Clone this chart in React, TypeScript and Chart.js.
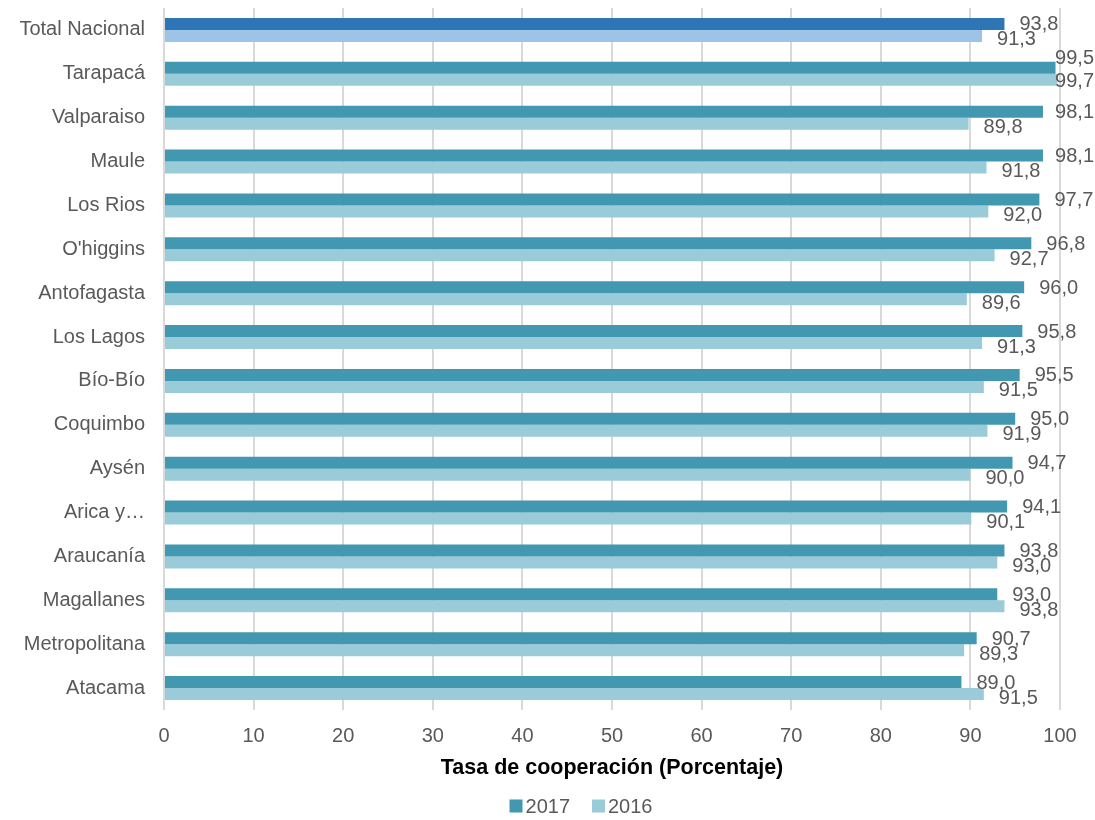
import React, { useEffect, useRef } from "react";
import { Chart, registerables } from "chart.js";

Chart.register(...registerables);

const categories = [
  "Total Nacional", "Tarapacá", "Valparaiso", "Maule", "Los Rios", "O'higgins",
  "Antofagasta", "Los Lagos", "Bío-Bío", "Coquimbo", "Aysén", "Arica y…",
  "Araucanía", "Magallanes", "Metropolitana", "Atacama",
];
const values2017 = [93.8, 99.5, 98.1, 98.1, 97.7, 96.8, 96.0, 95.8, 95.5, 95.0, 94.7, 94.1, 93.8, 93.0, 90.7, 89.0];
const values2016 = [91.3, 99.7, 89.8, 91.8, 92.0, 92.7, 89.6, 91.3, 91.5, 91.9, 90.0, 90.1, 93.0, 93.8, 89.3, 91.5];
const xTicks = [0, 10, 20, 30, 40, 50, 60, 70, 80, 90, 100];
const seriesNames = ["2017", "2016"];

const C2017 = "#4198B0";
const C2016 = "#9ACBD9";
const CTOT17 = "#2E75B6";
const CTOT16 = "#9DC3E6";
const FONT = "'Liberation Sans', Arial, sans-serif";
const TXT = "#595959";

const labelsPlugin = {
  id: "barValueLabels",
  afterDatasetsDraw(chart: any) {
    const ctx = chart.ctx;
    ctx.save();
    ctx.font = `20px ${FONT}`;
    ctx.fillStyle = TXT;
    ctx.textAlign = "left";
    ctx.textBaseline = "middle";
    chart.data.datasets.forEach((ds: any, di: number) => {
      const meta = chart.getDatasetMeta(di);
      meta.data.forEach((el: any, i: number) => {
        const v = ds.data[i];
        const txt = v.toFixed(1).replace(".", ",");
        const w = ctx.measureText(txt).width;
        let x = el.x + 15;
        let dy = di === 0 ? 1 : 4;
        const maxX = chart.width - w - 1;
        if (x > maxX) {
          x = maxX;
          if (x < el.x + 4) dy = di === 0 ? -9 : 2;
        }
        ctx.fillText(txt, x, el.y + dy);
      });
    });
    ctx.restore();
  },
};

const legendPlugin = {
  id: "customLegend",
  afterDraw(chart: any) {
    const ctx = chart.ctx;
    ctx.save();
    ctx.font = `20px ${FONT}`;
    ctx.textAlign = "left";
    ctx.textBaseline = "middle";
    const colors = [C2017, C2016];
    const box = 13;
    const gapText = 3;
    const gapItem = 22;
    const widths = seriesNames.map((n) => box + gapText + ctx.measureText(n).width);
    const total = widths.reduce((a, b) => a + b, 0) + gapItem * (seriesNames.length - 1);
    const cx = (chart.chartArea.left + chart.chartArea.right) / 2 - 31;
    let x = cx - total / 2;
    const y = 806;
    seriesNames.forEach((n, i) => {
      ctx.fillStyle = colors[i];
      ctx.fillRect(x, y - box / 2, box, box);
      ctx.fillStyle = TXT;
      ctx.fillText(n, x + box + gapText, y + 1);
      x += widths[i] + gapItem;
    });
    ctx.restore();
  },
};

export default function App() {
  const ref = useRef<HTMLCanvasElement | null>(null);
  useEffect(() => {
    document.body.style.margin = "0";
    const chart = new Chart(ref.current as HTMLCanvasElement, {
      type: "bar",
      data: {
        labels: categories,
        datasets: [
          {
            label: seriesNames[0],
            data: values2017,
            backgroundColor: values2017.map((_, i) => (i === 0 ? CTOT17 : C2017)),
            categoryPercentage: 0.547,
            barPercentage: 1,
          },
          {
            label: seriesNames[1],
            data: values2016,
            backgroundColor: values2016.map((_, i) => (i === 0 ? CTOT16 : C2016)),
            categoryPercentage: 0.547,
            barPercentage: 1,
          },
        ],
      },
      options: {
        indexAxis: "y",
        animation: false,
        responsive: false,
        maintainAspectRatio: false,
        layout: { padding: { top: 8, right: 35, left: 0, bottom: 26 } },
        scales: {
          x: {
            min: 0,
            max: 100,
            afterBuildTicks: (axis: any) => {
              axis.ticks = xTicks.map((v) => ({ value: v }));
            },
            afterFit: (axis: any) => {
              axis.height = 84;
            },
            grid: { color: "#D9D9D9", lineWidth: 2, drawTicks: false },
            border: { display: false },
            ticks: { color: TXT, font: { family: FONT, size: 20 }, padding: 14 },
            title: {
              display: true,
              text: "Tasa de cooperación (Porcentaje)",
              color: "#000000",
              font: { family: FONT, size: 21.5, weight: "bold" },
              padding: { top: 0, bottom: 13 },
            },
          },
          y: {
            afterFit: (axis: any) => {
              axis.width = 164;
            },
            grid: { display: false, drawTicks: true, tickLength: 19 },
            border: { display: false },
            ticks: { color: TXT, font: { family: FONT, size: 20, lineHeight: 0.8 }, padding: 0 },
          },
        },
        plugins: {
          legend: { display: false },
          tooltip: { enabled: false },
        },
      },
      plugins: [labelsPlugin, legendPlugin],
    } as any);
    return () => chart.destroy();
  }, []);
  return (
    <div style={{ width: 1095, height: 820 }}>
      <canvas ref={ref} width={1095} height={820} style={{ display: "block" }} />
    </div>
  );
}
